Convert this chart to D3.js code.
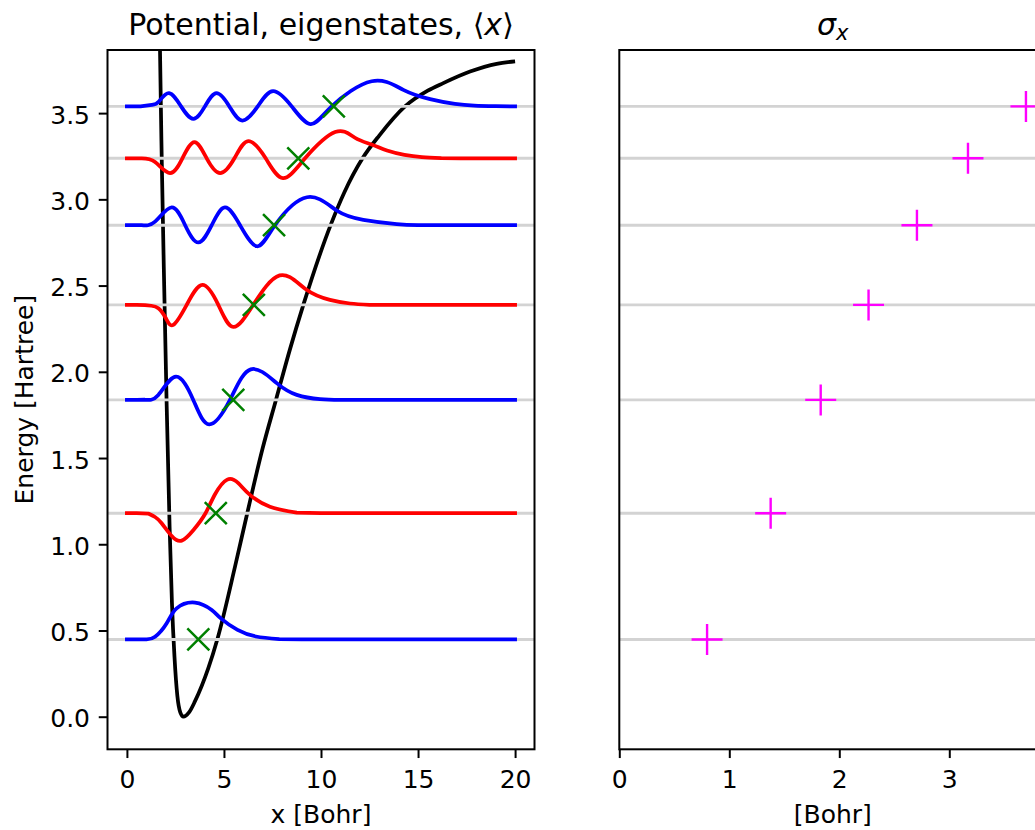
<!DOCTYPE html>
<html><head><meta charset="utf-8">
<script src="https://cdn.jsdelivr.net/npm/d3@7"></script>
<style>
body{margin:0;background:#fff}
svg{display:block}
text{font-family:"DejaVu Sans",sans-serif;fill:#000}
</style>
</head><body>
<svg id="chart" width="1035" height="830"></svg>
<script>
// ---- data ----
const energies = [0.448, 1.180, 1.837, 2.388, 2.850, 3.238, 3.539];
const expX     = [3.68, 4.58, 5.48, 6.54, 7.58, 8.83, 10.66];
const sigmaX   = [0.798, 1.376, 1.831, 2.266, 2.706, 3.170, 3.697];

const potX = [1.66, 1.70, 1.80, 1.92, 2.05, 2.20, 2.32, 2.45, 2.60, 2.75, 2.91, 3.20, 3.51, 4.19, 4.66, 5.57, 6.20, 6.99, 7.68, 8.40, 9.09, 10.50, 11.20, 12.14, 13.00, 14.33, 15.50, 16.30, 17.68, 19.05, 20.00];
const potV = [4.30, 3.90, 3.20, 2.50, 1.80, 1.10, 0.66, 0.35, 0.12, 0.025, 0.0, 0.025, 0.090, 0.280, 0.449, 0.870, 1.180, 1.555, 1.837, 2.130, 2.388, 2.852, 3.040, 3.238, 3.370, 3.539, 3.630, 3.674, 3.741, 3.786, 3.800];

const psi0 = [[0,0.448],[0.5,0.448],[1.0,0.449],[1.45,0.464],[2.05,0.542],[2.56,0.628],[3.51,0.662],[4.37,0.619],[4.84,0.570],[5.70,0.503],[6.65,0.465],[7.85,0.450],[9,0.448],[20,0.448]];
const psi1 = [[0,1.180],[0.5,1.180],[1.1,1.178],[1.45,1.158],[1.79,1.122],[2.31,1.048],[2.82,1.021],[3.43,1.083],[4.05,1.180],[4.54,1.290],[5.17,1.375],[5.74,1.354],[6.34,1.286],[7.37,1.218],[8.75,1.183],[10,1.180],[20,1.180]];
const psi2 = [[0,1.837],[0.5,1.837],[0.93,1.838],[1.62,1.866],[2.53,1.972],[3.42,1.837],[4.24,1.695],[5.31,1.837],[6.38,2.014],[7.72,1.934],[8.75,1.866],[9.95,1.841],[11,1.837],[20,1.837]];
const psi3 = [[0,2.388],[0.5,2.388],[0.93,2.387],[1.25,2.383],[1.62,2.369],[2.0,2.312],[2.39,2.272],[3.08,2.388],[3.89,2.504],[4.71,2.388],[5.48,2.260],[6.51,2.388],[7.87,2.559],[9.20,2.480],[10.46,2.417],[11.5,2.396],[12.5,2.388],[20,2.388]];
const psi4 = [[0,2.850],[0.4,2.850],[0.76,2.850],[1.45,2.871],[2.31,2.953],[3.0,2.850],[3.68,2.750],[4.37,2.850],[5.05,2.953],[5.83,2.850],[6.70,2.728],[7.63,2.850],[9.28,3.012],[10.81,2.935],[12.18,2.881],[13.9,2.856],[15,2.851],[16,2.850],[20,2.850]];
const psi5 = [[0,3.238],[0.4,3.238],[0.76,3.237],[1.45,3.216],[2.22,3.152],[2.86,3.238],[3.48,3.332],[4.11,3.238],[4.80,3.152],[5.54,3.238],[6.25,3.338],[7.15,3.238],[8.04,3.123],[9.18,3.238],[10.73,3.390],[11.75,3.357],[12.6,3.318],[13.4,3.283],[14.3,3.258],[15.2,3.245],[16.2,3.239],[17.2,3.238],[20,3.238]];
const psi6 = [[0,3.539],[0.35,3.539],[0.7,3.539],[1.28,3.548],[1.65,3.568],[2.17,3.616],[2.79,3.539],[3.42,3.467],[4.02,3.539],[4.62,3.616],[5.28,3.539],[5.95,3.457],[6.74,3.539],[7.53,3.627],[8.49,3.539],[9.46,3.436],[10.55,3.539],[12.61,3.685],[14.24,3.635],[15.62,3.581],[16.9,3.553],[17.9,3.543],[19,3.540],[20,3.539]];
const waves = [psi0, psi1, psi2, psi3, psi4, psi5, psi6];

const xTicksLeft  = [0, 5, 10, 15, 20];
const yTicksLeft  = [0.0, 0.5, 1.0, 1.5, 2.0, 2.5, 3.0, 3.5];
const xTicksRight = [0, 1, 2, 3];

const titleLeft = "Potential, eigenstates, ";
const xLabelLeft = "x [Bohr]";
const yLabelLeft = "Energy [Hartree]";
const xLabelRight = "[Bohr]";

// ---- styles ----
const waveColors = ["blue", "red"];
const FS = 25, TFS = 30;
const LW = 3.75;

// ---- layout ----
const svg = d3.select("#chart");
const L = {x0: 107.5, x1: 534.5, y0: 50, y1: 749.3};
const R = {x0: 619.3, x1: 1046.3, y0: 50, y1: 749.3};

const xL = d3.scaleLinear().domain([-1, 21]).range([L.x0, L.x1]);
const y  = d3.scaleLinear().domain([-0.189, 3.866]).range([L.y1, L.y0]);
const xR = d3.scaleLinear().domain([0, 3.882]).range([R.x0, R.x1]);

const defs = svg.append("defs");
defs.append("clipPath").attr("id","clipL").append("rect")
  .attr("x", L.x0).attr("y", L.y0).attr("width", L.x1-L.x0).attr("height", L.y1-L.y0);
defs.append("clipPath").attr("id","clipR").append("rect")
  .attr("x", R.x0).attr("y", R.y0).attr("width", R.x1-R.x0).attr("height", R.y1-R.y0);

// ---- left panel ----
const gL = svg.append("g").attr("clip-path","url(#clipL)");
const potLine = d3.line().x((d,i)=>xL(potX[i])).y((d,i)=>y(potV[i])).curve(d3.curveMonotoneX);
gL.append("path").attr("d", potLine(potX)).attr("fill","none")
  .attr("stroke","black").attr("stroke-width",LW).attr("stroke-linejoin","round");

// flat tails drawn straight, the oscillating part with a natural spline
const linW = d3.line().x(d=>xL(d[0])).y(d=>y(d[1]));
const natW = d3.line().x(d=>xL(d[0])).y(d=>y(d[1])).curve(d3.curveNatural);
function wavePath(pts, E){
  const dev = pts.map(p => Math.abs(p[1]-E) > 0.0035);
  let a = Math.max(dev.indexOf(true) - 1, 1);
  let b = Math.min(dev.lastIndexOf(true) + 1, pts.length - 2);
  return linW(pts.slice(0, a+1)) +
         natW(pts.slice(a, b+1)).replace(/^M/, "L") +
         linW(pts.slice(b)).replace(/^M/, "L");
}

energies.forEach((E,i)=>{
  gL.append("line").attr("x1",L.x0).attr("x2",L.x1).attr("y1",y(E)).attr("y2",y(E))
    .attr("stroke","#d3d3d3").attr("stroke-width",2.9);
  gL.append("path").attr("d", wavePath(waves[i], E)).attr("fill","none")
    .attr("stroke", waveColors[i%2]).attr("stroke-width",LW)
    .attr("stroke-linecap","square").attr("stroke-linejoin","round");
  gL.append("path").attr("transform",`translate(${xL(expX[i])},${y(E)})`)
    .attr("d","M-11,-11L11,11M-11,11L11,-11").attr("stroke","green").attr("stroke-width",2.5).attr("fill","none");
});

// ---- right panel ----
const gR = svg.append("g").attr("clip-path","url(#clipR)");
energies.forEach((E,i)=>{
  gR.append("line").attr("x1",R.x0).attr("x2",R.x1).attr("y1",y(E)).attr("y2",y(E))
    .attr("stroke","#d3d3d3").attr("stroke-width",2.9);
});
energies.forEach((E,i)=>{
  gR.append("path").attr("transform",`translate(${xR(sigmaX[i])},${y(E)})`)
    .attr("d","M-15.5,0H15.5M0,-15.5V15.5").attr("stroke","#ff00ff").attr("stroke-width",2.4).attr("fill","none");
});

// ---- axes ----
function styleAxis(g, dy){
  g.select(".domain").remove();
  g.selectAll(".tick line").attr("stroke","black").attr("stroke-width",2);
  g.selectAll(".tick text").attr("font-family","DejaVu Sans").attr("font-size",FS).attr("fill","black").attr("dy",dy);
  g.attr("font-family",null).attr("font-size",null);
}
svg.append("g").attr("transform",`translate(0,${L.y1})`)
  .call(d3.axisBottom(xL).tickValues(xTicksLeft).tickSize(8.75).tickPadding(8.75).tickFormat(d3.format("d")))
  .call(g=>styleAxis(g,"0.83em"));
svg.append("g").attr("transform",`translate(${L.x0},0)`)
  .call(d3.axisLeft(y).tickValues(yTicksLeft).tickSize(8.75).tickPadding(8.75).tickFormat(d3.format(".1f")))
  .call(g=>styleAxis(g,"0.4em"));
svg.append("g").attr("transform",`translate(0,${R.y1})`)
  .call(d3.axisBottom(xR).tickValues(xTicksRight).tickSize(8.75).tickPadding(8.75).tickFormat(d3.format("d")))
  .call(g=>styleAxis(g,"0.83em"));

// spines
[L,R].forEach(P=>{
  svg.append("rect").attr("x",P.x0).attr("y",P.y0).attr("width",P.x1-P.x0).attr("height",P.y1-P.y0)
    .attr("fill","none").attr("stroke","black").attr("stroke-width",2);
});

// ---- labels ----
const tL = svg.append("text").attr("x",(L.x0+L.x1)/2).attr("y",35).attr("text-anchor","middle").attr("font-size",TFS);
tL.append("tspan").text(titleLeft + "\u27E8");
tL.append("tspan").attr("font-style","italic").text("x");
tL.append("tspan").text("\u27E9");

const tR = svg.append("text").attr("x",(R.x0+R.x1)/2).attr("y",35).attr("text-anchor","middle").attr("font-size",TFS);
tR.append("tspan").attr("font-style","italic").text("\u03C3");
tR.append("tspan").attr("font-style","italic").attr("font-size",21).attr("dy",5).text("x");

svg.append("text").attr("x",(L.x0+L.x1)/2).attr("y",823).attr("text-anchor","middle").attr("font-size",FS).text(xLabelLeft);
svg.append("text").attr("x",(R.x0+R.x1)/2).attr("y",823).attr("text-anchor","middle").attr("font-size",FS).text(xLabelRight);
svg.append("text").attr("transform",`translate(33,${(L.y0+L.y1)/2}) rotate(-90)`).attr("text-anchor","middle").attr("font-size",FS).text(yLabelLeft);
</script>
</body></html>
